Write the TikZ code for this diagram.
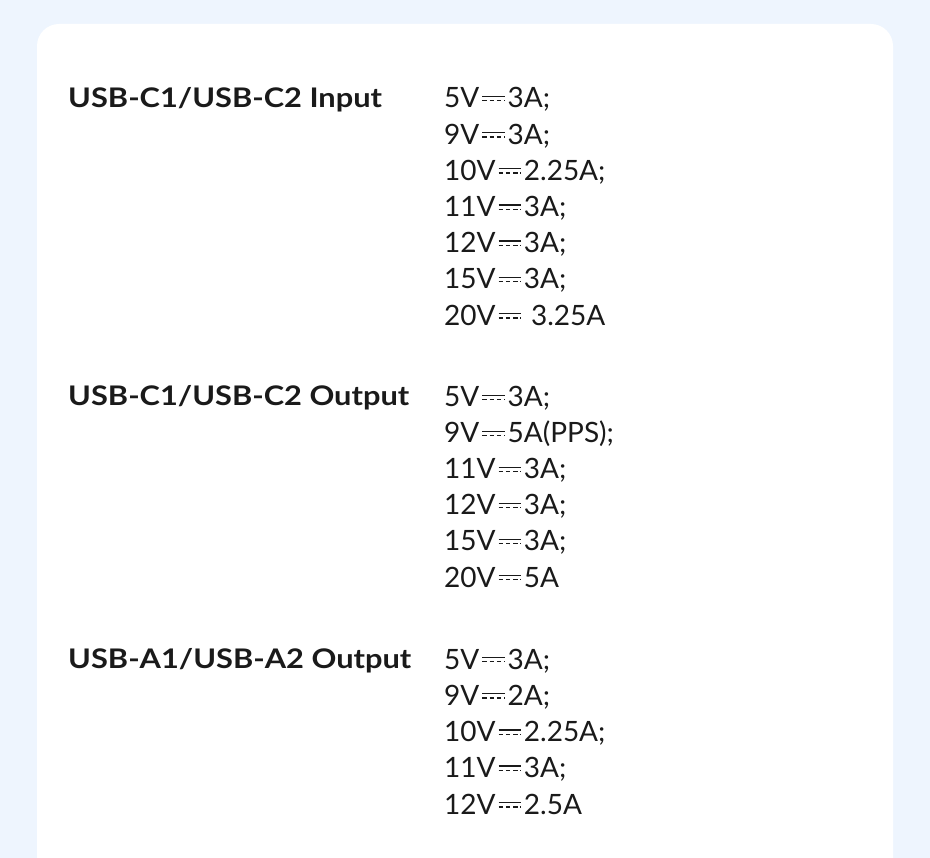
\documentclass[tikz,border=0pt]{standalone}
\usepackage{fontspec}
\setmainfont{Lato}
\newfontfamily\labfont[FakeStretch=1.14]{Lato}
\definecolor{bg}{HTML}{EEF5FE}
\definecolor{txt}{HTML}{1A1A1A}
\newcommand\dcsym{\hspace{0.08em}\tikz[baseline=0pt]{\draw[line width=1.4pt,txt](0,0.42em)--(0.8em,0.42em);\draw[line width=1.4pt,txt,dash pattern=on 0.16em off 0.1em](0,0.26em)--(0.8em,0.26em);}\hspace{0.08em}}
\begin{document}
\begin{tikzpicture}[x=1pt,y=-1pt,
  lab/.style={anchor=base west,inner sep=0,font=\labfont\fontsize{27}{30}\selectfont\bfseries,text=txt},
  val/.style={anchor=base west,inner sep=0,font=\fontsize{28}{30}\selectfont,text=txt}]
\useasboundingbox (0,0) rectangle (930,858);
\clip (0,0) rectangle (930,858);
\fill[bg] (0,0) rectangle (930,858);
\fill[white,rounded corners=22pt] (37,24) rectangle (893,900);
\node[lab] (l1) at (68,108) {USB-C1/USB-C2 Input};
\node[lab] (l2) at (68,406) {USB-C1/USB-C2 Output};
\node[lab] (l3) at (68,668) {USB-A1/USB-A2 Output};
\foreach \t [count=\i from 0] in {5V\dcsym 3A;,9V\dcsym 3A;,10V\dcsym 2.25A;,11V\dcsym 3A;,12V\dcsym 3A;,15V\dcsym 3A;,20V\dcsym\ 3.25A}
  \node[val] (a\i) at (444,108+36.2*\i) {\t};
\foreach \t [count=\i from 0] in {5V\dcsym 3A;,9V\dcsym 5A(PPS);,11V\dcsym 3A;,12V\dcsym 3A;,15V\dcsym 3A;,20V\dcsym 5A}
  \node[val] (b\i) at (444,407+36*\i) {\t};
\foreach \t [count=\i from 0] in {5V\dcsym 3A;,9V\dcsym 2A;,10V\dcsym 2.25A;,11V\dcsym 3A;,12V\dcsym 2.5A}
  \node[val] (c\i) at (444,669+36.3*\i) {\t};
\end{tikzpicture}
\end{document}
